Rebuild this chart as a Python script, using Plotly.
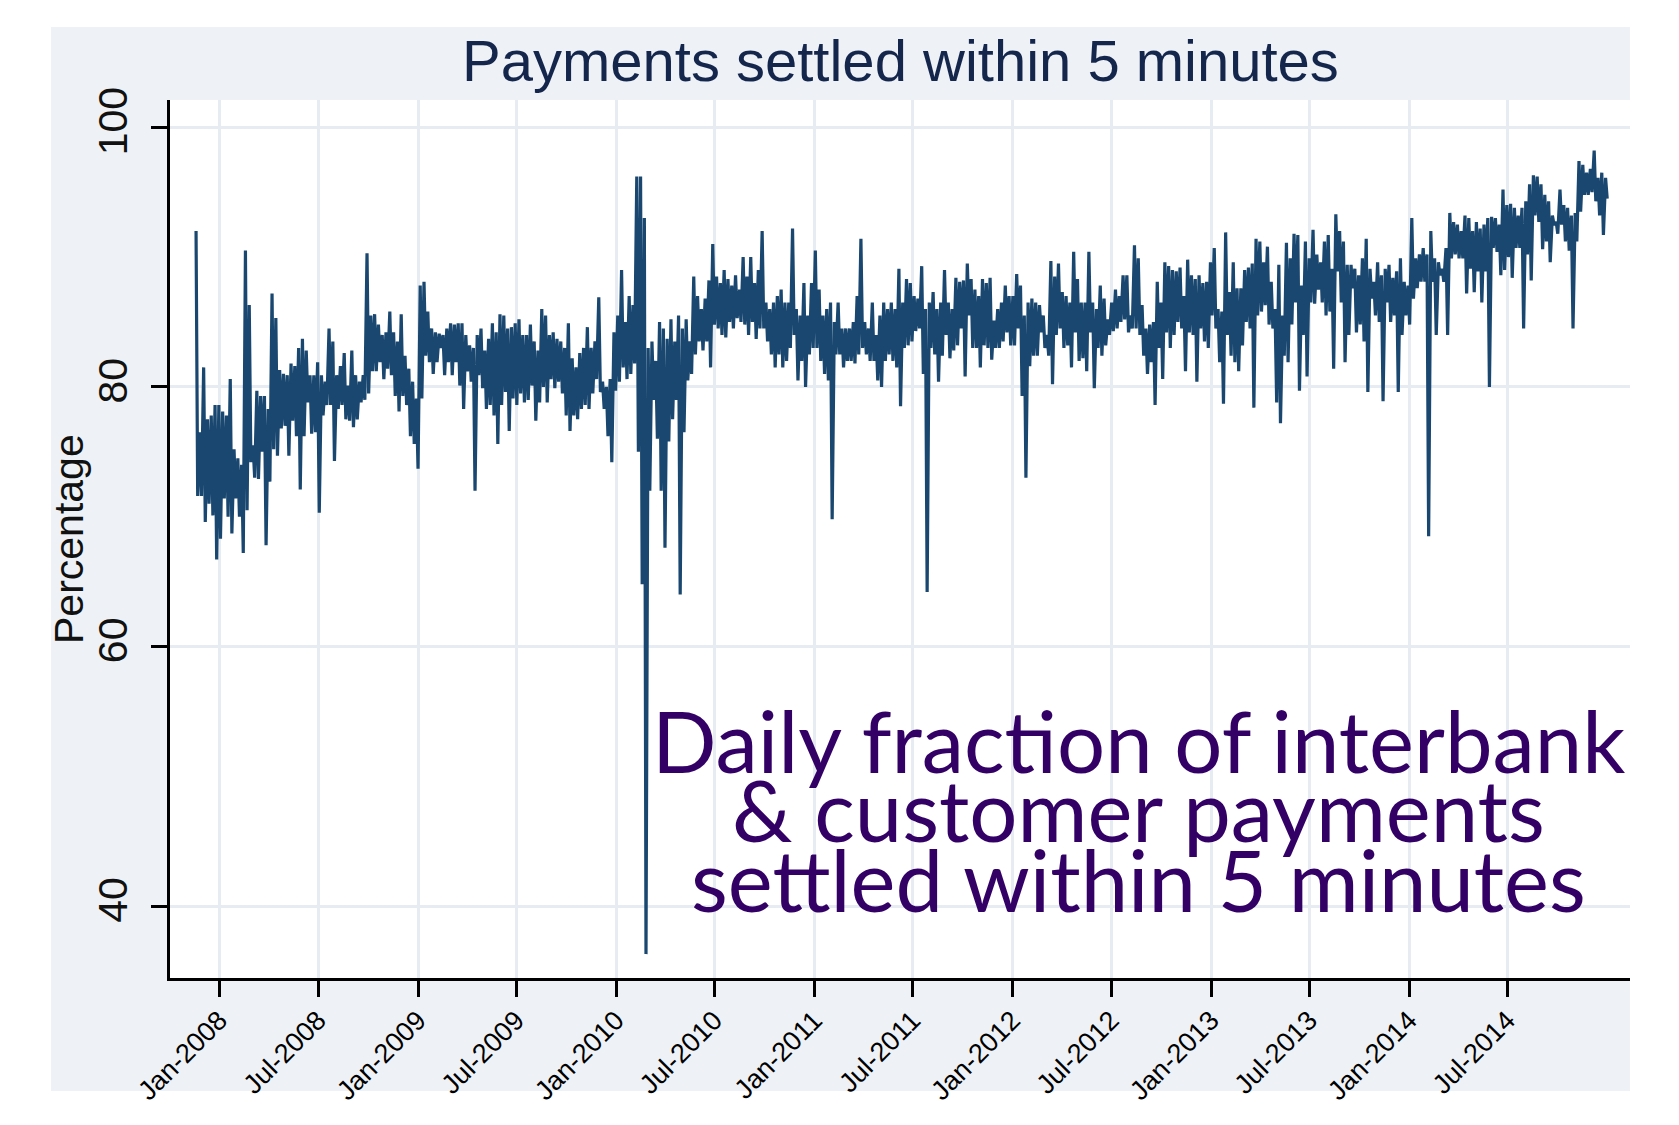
import pandas as pd
import plotly.graph_objects as go

# ---------------- data (weekly envelope) ----------------
week_start = "2007-11-19"

weekly_high = [
    92.0, 76.5, 81.5, 77.5, 77.8, 78.6, 78.6, 78.1, 77.8, 80.6,
    75.2, 74.5, 74.0, 90.5, 86.3, 75.5, 79.7, 79.3, 79.3, 78.3,
    87.2, 85.3, 81.3, 81.0, 80.9, 81.8, 81.6, 83.0, 83.7, 82.8,
    80.9, 80.9, 81.9, 80.9, 80.4, 84.5, 83.5, 80.9, 81.6, 82.6,
    80.1, 82.8, 80.9, 80.4, 80.9, 90.3, 85.5, 85.6, 84.8, 84.0,
    84.2, 85.8, 84.2, 83.5, 85.6, 82.4, 81.4, 80.4, 79.1, 87.8,
    88.1, 85.8, 84.5, 84.2, 84.1, 84.0, 84.5, 84.9, 84.8, 84.9,
    84.9, 84.0, 83.2, 83.0, 84.0, 84.5, 82.8, 83.7, 84.9, 84.2,
    85.6, 85.5, 84.5, 84.6, 84.9, 85.2, 84.0, 84.0, 84.8, 83.5,
    82.8, 86.0,
    85.5, 84.0, 84.2, 83.7, 83.5, 83.0, 84.9, 82.2, 81.5, 82.6,
    83.0, 84.6, 83.0, 83.5, 86.9, 80.4, 80.0, 80.6, 84.2, 85.5,
    89.0, 85.0, 87.0, 86.3, 96.2, 96.2, 93.0, 83.0, 83.5, 82.0,
    85.0, 84.5, 83.7, 85.2, 83.5, 85.5, 84.5, 85.2, 83.5, 88.5,
    87.0, 86.0, 86.8, 88.2, 91.0, 88.5, 88.0, 89.0, 88.3, 87.8,
    88.6, 87.5, 90.0, 88.5, 90.0, 88.0, 89.0, 92.0, 86.5, 86.0,
    86.5, 87.0, 87.5, 86.5, 86.5, 92.2, 86.0, 85.5, 88.0, 85.5,
    88.0, 90.5, 87.5, 85.5, 86.0, 86.5, 85.0, 86.5, 84.5, 84.5,
    84.5, 85.0, 87.0, 91.4, 85.0, 84.5, 86.5, 84.0, 85.5, 86.5,
    86.0, 86.5, 86.0, 89.1, 86.5,
    88.3, 88.0, 87.0, 86.8, 89.3, 86.0, 86.5, 87.3, 86.0, 86.5,
    89.0, 86.5, 86.0, 88.4, 88.1, 88.2, 89.5, 88.3, 87.5, 87.0,
    88.3, 88.0, 88.4, 85.1, 86.0, 86.5, 87.8, 87.0, 87.0, 88.7,
    87.8, 85.5, 86.5, 86.8, 86.5, 86.3, 85.5, 84.0, 89.7, 88.5,
    89.5, 87.3, 87.0, 86.5, 90.4, 88.3, 86.5, 86.5, 90.4, 86.5,
    86.0, 87.8, 86.8, 85.2, 86.5, 87.5, 87.0, 88.6, 88.6, 85.5,
    90.9, 89.9, 86.3, 84.5, 84.8, 85.0, 88.1, 86.5, 89.6, 89.3,
    89.0, 88.9, 89.2, 87.0, 89.8, 88.6, 88.3, 88.6, 88.0, 88.1,
    89.6, 90.7, 86.0, 85.8, 91.9, 87.3, 89.6, 87.6, 87.6, 89.0,
    89.2, 89.5, 91.4, 91.2, 89.6,
    90.8, 88.1, 86.0, 89.4, 85.5, 91.1, 89.9, 91.8, 91.7, 87.8,
    91.2, 89.9, 92.1, 90.2, 89.6, 91.2, 91.7, 89.1, 93.3, 92.0,
    91.2, 89.4, 89.4, 89.1, 88.6, 89.9, 91.4, 89.1, 88.1, 89.6,
    88.6, 89.1, 89.4, 88.4, 88.9, 89.9, 88.1, 87.8, 93.0, 89.9,
    90.2, 90.7, 90.2, 92.0, 89.9, 89.6, 89.1, 90.7, 93.4, 92.7,
    92.5, 92.0, 93.2, 93.0, 92.0, 92.7, 92.2, 92.5, 93.0, 93.1,
    93.0, 92.5, 95.2, 94.0, 94.1, 93.8, 93.2, 93.8, 94.3, 95.6,
    96.3, 96.2, 95.6, 94.8, 94.3, 93.2, 92.7, 95.2, 94.0, 93.8,
    93.2, 93.4, 97.4, 97.1, 96.5, 96.8, 98.2, 96.1, 96.5, 96.1,
]

weekly_low = [
    71.6, 71.6, 69.6, 71.0, 70.1, 66.7, 68.3, 71.4, 70.0, 68.7,
    71.4, 70.0, 67.2, 70.5, 74.2, 73.0, 72.9, 75.0, 67.8, 72.7,
    75.2, 74.7, 76.8, 77.0, 74.7, 77.4, 76.2, 72.1, 76.2, 78.8,
    76.4, 76.5, 70.3, 77.8, 78.6, 78.6, 74.3, 78.3, 78.6, 77.5,
    77.4, 76.9, 77.5, 78.8, 79.0, 79.5, 81.2, 81.2, 81.9, 80.6,
    81.4, 80.9, 79.3, 78.1, 79.3, 78.6, 76.2, 75.6, 73.7, 79.1,
    82.4, 81.9, 81.0, 81.9, 83.0, 80.9, 81.9, 80.9, 81.9, 80.1,
    78.3, 81.2, 80.4, 72.0, 80.9, 79.9, 78.3, 78.6, 77.8, 75.6,
    78.6, 79.6, 76.6, 79.1, 78.6, 79.5, 78.8, 79.0, 80.1, 77.4,
    78.8, 80.0,
    78.8, 80.6, 79.9, 80.4, 79.5, 77.8, 76.6, 77.8, 77.5, 78.3,
    78.6, 78.3, 79.5, 80.6, 79.6, 78.3, 76.2, 74.2, 79.7, 80.4,
    81.5, 80.6, 81.0, 81.8, 75.0, 64.8, 36.3, 72.0, 79.0, 76.0,
    72.0, 67.6, 75.8, 77.5, 79.0, 64.0, 76.5, 80.5, 81.0, 82.5,
    83.5, 82.8, 83.5, 81.5, 84.8, 84.5, 84.0, 83.8, 85.0, 84.5,
    85.3, 85.0, 84.8, 84.0, 85.0, 83.7, 84.5, 84.5, 83.5, 82.5,
    81.5, 82.5, 81.5, 82.0, 83.0, 84.0, 80.5, 82.0, 80.0, 82.5,
    83.0, 83.0, 82.0, 81.0, 80.5, 69.8, 82.5, 82.5, 81.5, 82.0,
    82.0, 81.8, 82.5, 83.0, 82.5, 82.0, 82.0, 80.5, 80.0, 82.0,
    82.5, 82.0, 81.5, 78.5, 83.0,
    83.2, 83.5, 84.3, 84.5, 81.0, 64.2, 83.0, 82.5, 80.4, 82.4,
    84.0, 82.2, 82.8, 83.2, 84.5, 80.8, 85.5, 83.0, 83.0, 81.5,
    83.2, 83.0, 82.1, 83.0, 83.0, 83.5, 84.2, 83.2, 83.2, 84.5,
    79.3, 73.0, 81.6, 82.4, 82.4, 84.2, 83.0, 82.4, 80.2, 84.0,
    84.5, 83.0, 83.2, 81.5, 84.2, 82.0, 82.2, 81.2, 84.2, 79.9,
    83.0, 82.4, 83.2, 84.0, 84.3, 84.5, 85.0, 85.2, 84.2, 84.5,
    84.5, 84.0, 82.4, 81.0, 81.9, 78.6, 83.0, 80.6, 84.2, 83.0,
    84.0, 85.0, 84.5, 81.2, 84.2, 84.0, 80.4, 84.5, 83.5, 83.0,
    85.5, 84.5, 81.9, 78.7, 84.0, 82.4, 81.9, 81.2, 83.2, 85.0,
    84.5, 78.4, 85.5, 85.8, 86.3,
    84.8, 84.5, 78.8, 77.2, 82.4, 81.9, 84.8, 86.5, 79.7, 84.0,
    80.8, 86.5, 86.4, 87.5, 86.5, 85.5, 85.8, 81.4, 88.9, 86.5,
    81.9, 84.0, 87.6, 84.2, 84.8, 83.5, 79.6, 86.8, 85.5, 85.0,
    78.9, 86.5, 85.0, 85.5, 79.6, 84.0, 85.5, 84.8, 86.8, 87.6,
    88.1, 88.1, 68.5, 88.1, 84.0, 88.6, 88.1, 84.0, 89.9, 90.2,
    89.9, 89.9, 87.2, 89.1, 87.3, 88.9, 86.5, 88.9, 80.0, 90.7,
    90.4, 88.6, 89.0, 90.0, 88.4, 90.7, 90.7, 84.5, 90.2, 88.2,
    93.2, 92.7, 90.6, 91.2, 89.6, 92.5, 91.8, 92.5, 91.2, 90.5,
    84.5, 91.2, 93.5, 94.8, 94.8, 95.0, 94.3, 93.2, 91.7, 94.5,
]

tick_dates = ["2008-01-01", "2008-07-01", "2009-01-01", "2009-07-01",
              "2010-01-01", "2010-07-01", "2011-01-01", "2011-07-01",
              "2012-01-01", "2012-07-01", "2013-01-01", "2013-07-01",
              "2014-01-01", "2014-07-01"]
tick_labels = ["Jan-2008", "Jul-2008", "Jan-2009", "Jul-2009",
               "Jan-2010", "Jul-2010", "Jan-2011", "Jul-2011",
               "Jan-2012", "Jul-2012", "Jan-2013", "Jul-2013",
               "Jan-2014", "Jul-2014"]
y_ticks = [40, 60, 80, 100]

title_text = "Payments settled within 5 minutes"
y_title = "Percentage"
note_lines = ["Daily fraction of interbank",
              "& customer payments",
              "settled within 5 minutes"]

# ---------------- build series ----------------
weeks = pd.date_range(week_start, periods=len(weekly_high), freq="7D")
xs, ys = [], []
for d, h, l in zip(weeks, weekly_high, weekly_low):
    xs += [d, d + pd.Timedelta(days=3)]
    ys += [h, l]

NAVY = "#1A476F"
PANEL = "#EEF2F6"
GRID = "#E6ECF2"

fig = go.Figure()
fig.add_trace(go.Scatter(x=xs, y=ys, mode="lines",
                         line=dict(color=NAVY, width=3.2),
                         showlegend=False, hoverinfo="x+y"))

W, H = 1679, 1125
ml, mr, mt, mb = 170, 49, 100, 147
pw, ph = W - ml - mr, H - mt - mb


def px_x(px):
    return (px - ml) / pw


def px_y(py):
    return (H - mb - py) / ph


fig.update_layout(
    width=W, height=H,
    margin=dict(l=ml, r=mr, t=mt, b=mb, pad=0),
    paper_bgcolor="white",
    plot_bgcolor="white",
    showlegend=False,
    shapes=[
        dict(type="rect", xref="paper", yref="paper",
             x0=px_x(51), x1=px_x(1630), y0=px_y(1091), y1=px_y(27),
             fillcolor=PANEL, line=dict(width=0), layer="below"),
        dict(type="rect", xref="paper", yref="paper",
             x0=0, x1=1, y0=0, y1=1,
             fillcolor="white", line=dict(width=0), layer="below"),
    ],
    xaxis=dict(
        type="date",
        range=["2007-10-02", "2015-02-12"],
        tickmode="array", tickvals=tick_dates, ticktext=tick_labels,
        tickangle=-45,
        tickfont=dict(family="Liberation Sans, Arial", size=27, color="#000000"),
        ticks="outside", ticklen=16, tickwidth=2.5, tickcolor="black",
        ticklabelstandoff=-3,
        showline=True, linecolor="black", linewidth=2.5,
        showgrid=True, gridcolor=GRID, gridwidth=2.5,
        zeroline=False, fixedrange=True,
    ),
    yaxis=dict(
        range=[34.46, 102.1],
        tickmode="array", tickvals=y_ticks, ticktext=[str(v) for v in y_ticks],
        tickangle=-90,
        tickfont=dict(family="Liberation Sans, Arial", size=41, color="#111111"),
        ticks="outside", ticklen=16, tickwidth=2.5, tickcolor="black",
        ticklabelstandoff=8,
        showline=True, linecolor="black", linewidth=2.5,
        showgrid=True, gridcolor=GRID, gridwidth=2.5,
        zeroline=False, fixedrange=True,
    ),
    annotations=[
        dict(text=title_text, xref="paper", yref="paper",
             x=0.5, y=px_y(61), xanchor="center", yanchor="middle",
             showarrow=False,
             font=dict(family="Liberation Sans, Arial", size=58, color="#15264D")),
        dict(text=y_title, xref="paper", yref="paper",
             x=px_x(69), y=0.5, xanchor="center", yanchor="middle",
             textangle=-90, showarrow=False,
             font=dict(family="Liberation Sans, Arial", size=41, color="#111111")),
    ] + [
        dict(text=t, xref="paper", yref="paper",
             x=px_x(1138), y=px_y(cy), xanchor="center", yanchor="middle",
             showarrow=False,
             font=dict(family="Lato", size=85, color="#330066"))
        for t, cy in zip(note_lines, [740, 809, 879])
    ],
)

fig.write_html("out.html")
